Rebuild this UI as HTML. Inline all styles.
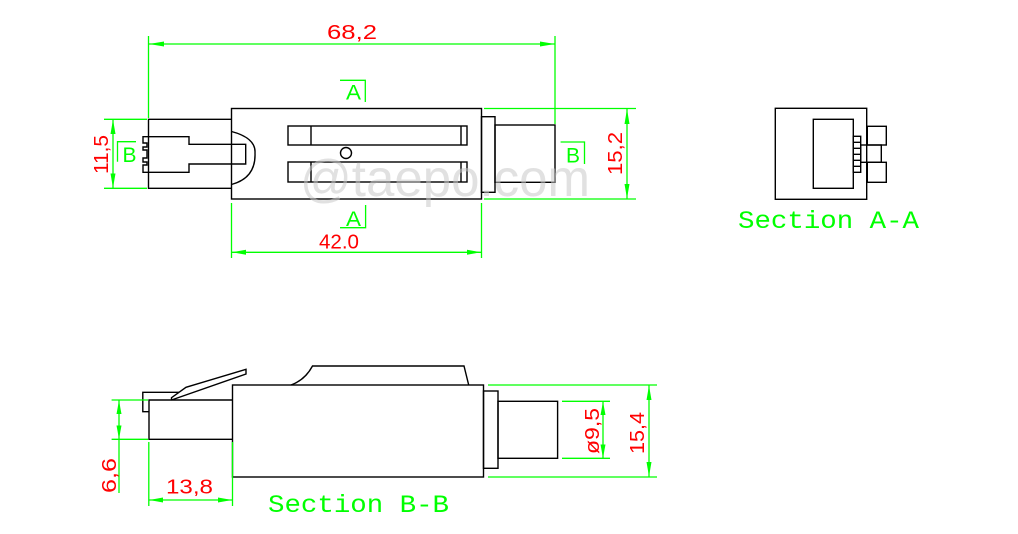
<!DOCTYPE html>
<html><head><meta charset="utf-8"><style>
html,body{margin:0;padding:0;background:#fff;}
svg{display:block;}
.k{stroke:#000;stroke-width:1.4;fill:none;}
.g{stroke:#00ff00;stroke-width:1.3;fill:none;}
.a{fill:#00ff00;stroke:none;}
.r{fill:#ff0000;font-family:"Liberation Sans",sans-serif;font-size:20px;}
.gt{fill:#00ff00;font-family:"Liberation Mono",monospace;font-size:25px;}
.gl{fill:#00ff00;font-family:"Liberation Sans",sans-serif;font-size:21px;}
</style></head><body>
<svg width="1018" height="534" viewBox="0 0 1018 534" xmlns="http://www.w3.org/2000/svg">
<rect class="k" x="231.5" y="108.5" width="250" height="90.5"/>
<rect class="k" x="481.5" y="116.7" width="13.5" height="75.6"/>
<rect class="k" x="495" y="125" width="60" height="57.3"/>
<path class="k" d="M231.5 119.3 H148.5 V188.3 H231.5"/>
<path class="k" d="M143 136.7 H189 V144.3 H245.7 V164 H189 V172.3 H143 V165 H147 V162 H143 V158 H147 V150 H143 V147 H147 V143 H143 Z"/>
<path class="k" d="M231.5 131.5 Q256 138 255 153 Q256 178 231.5 184.5"/>
<rect class="k" x="288" y="126" width="179" height="19"/>
<line class="k" x1="311" y1="126" x2="311" y2="145"/><line class="k" x1="461" y1="126" x2="461" y2="145"/>
<rect class="k" x="288" y="162" width="179" height="20"/>
<line class="k" x1="311" y1="162" x2="311" y2="182"/><line class="k" x1="461" y1="162" x2="461" y2="182"/>
<circle class="k" cx="346" cy="153" r="5.5"/>
<line class="g" x1="148.5" y1="36" x2="148.5" y2="118"/>
<line class="g" x1="555" y1="36" x2="555" y2="124"/>
<line class="g" x1="148.5" y1="44" x2="555" y2="44"/>
<polygon class="a" points="149,44 164,41.5 164,46.5"/><polygon class="a" points="555,44 540,41.5 540,46.5"/>
<text class="r" x="327" y="39" textLength="50" lengthAdjust="spacingAndGlyphs">68,2</text>
<path class="g" d="M340 80.3 H365.3 V102"/>
<text class="gl" x="346" y="99.5" textLength="15" lengthAdjust="spacingAndGlyphs">A</text>
<path class="g" d="M340 227.7 H365.6 V205"/>
<text class="gl" x="346" y="226" textLength="15" lengthAdjust="spacingAndGlyphs">A</text>
<path class="g" d="M136 141.7 H117.5 V161.7"/>
<text class="gl" x="122.5" y="162" textLength="14" lengthAdjust="spacingAndGlyphs">B</text>
<path class="g" d="M560.6 142 H584.5 V164"/>
<text class="gl" x="566" y="162.5" textLength="14" lengthAdjust="spacingAndGlyphs">B</text>
<line class="g" x1="104" y1="119.3" x2="147" y2="119.3"/>
<line class="g" x1="104" y1="188.3" x2="147" y2="188.3"/>
<line class="g" x1="113" y1="119.3" x2="113" y2="188.3"/>
<polygon class="a" points="113,119.5 110.5,134 115.5,134"/><polygon class="a" points="113,188 110.5,173.5 115.5,173.5"/>
<text class="r" transform="translate(108,174) rotate(-90)" x="0" y="0" textLength="39" lengthAdjust="spacingAndGlyphs">11,5</text>
<line class="g" x1="484" y1="108.5" x2="636" y2="108.5"/>
<line class="g" x1="484" y1="199" x2="636" y2="199"/>
<line class="g" x1="627" y1="108.5" x2="627" y2="199"/>
<polygon class="a" points="627,109 624.5,124 629.5,124"/><polygon class="a" points="627,198.5 624.5,184 629.5,184"/>
<text class="r" transform="translate(622,175) rotate(-90)" x="0" y="0" textLength="43" lengthAdjust="spacingAndGlyphs">15,2</text>
<line class="g" x1="231.5" y1="203" x2="231.5" y2="258"/>
<line class="g" x1="481.5" y1="203" x2="481.5" y2="258"/>
<line class="g" x1="231.5" y1="252.3" x2="481.5" y2="252.3"/>
<polygon class="a" points="232,252.3 246,249.8 246,254.8"/><polygon class="a" points="481,252.3 467,249.8 467,254.8"/>
<text class="r" x="319" y="248.5" textLength="40" lengthAdjust="spacingAndGlyphs">42.0</text>
<text x="300" y="196" fill="#c8c8c8" fill-opacity="0.55" font-family="Liberation Sans, sans-serif" font-size="52" textLength="290" lengthAdjust="spacingAndGlyphs">@taepo.com</text>

<rect class="k" x="775.3" y="108.3" width="91.4" height="91"/>
<rect class="k" x="813.3" y="119.3" width="40" height="69"/>
<rect class="k" x="853.3" y="136.3" width="7.4" height="36"/>
<path class="k" d="M853.3 142.3 H860.7 M853.3 148.3 H860.7 M853.3 154.3 H860.7 M853.3 160.3 H860.7 M853.3 166.3 H860.7"/>
<rect class="k" x="867.3" y="126.3" width="19" height="18.7"/>
<rect class="k" x="860.7" y="145" width="20.6" height="17.3"/>
<rect class="k" x="867.3" y="162.3" width="19" height="20"/>
<text class="gt" x="738" y="228" textLength="181" lengthAdjust="spacingAndGlyphs">Section A-A</text>

<rect class="k" x="232.5" y="385" width="251" height="92"/>
<rect class="k" x="483.5" y="391" width="14.5" height="77.3"/>
<rect class="k" x="498" y="401.3" width="59.6" height="57"/>
<path class="k" d="M232.5 400 H149 V439.3 H232.5"/>
<path class="k" d="M149 411.7 H142.8 V392.3 H179"/>
<path class="k" d="M171.5 400 V397.7 L186 387.3 L246 369.3 V374 L171.5 400"/>
<path class="k" d="M291 385 Q305 380 312.5 366 H464 L468.7 385"/>
<line class="g" x1="111.6" y1="400" x2="148" y2="400"/>
<line class="g" x1="111.6" y1="439.3" x2="148" y2="439.3"/>
<line class="g" x1="119" y1="400" x2="119" y2="493"/>
<polygon class="a" points="119,400.5 116.5,414 121.5,414"/><polygon class="a" points="119,439 116.5,425.5 121.5,425.5"/>
<text class="r" transform="translate(116,493) rotate(-90)" x="0" y="0" textLength="35" lengthAdjust="spacingAndGlyphs">6,6</text>
<line class="g" x1="148.8" y1="442" x2="148.8" y2="506"/>
<line class="g" x1="232.5" y1="442" x2="232.5" y2="506"/>
<line class="g" x1="148.8" y1="500" x2="232.5" y2="500"/>
<polygon class="a" points="149.3,500 163,497.5 163,502.5"/><polygon class="a" points="232,500 218,497.5 218,502.5"/>
<text class="r" x="166" y="493.5" textLength="47" lengthAdjust="spacingAndGlyphs">13,8</text>
<line class="g" x1="562" y1="401.3" x2="610" y2="401.3"/>
<line class="g" x1="562" y1="458.3" x2="610" y2="458.3"/>
<line class="g" x1="603" y1="401.3" x2="603" y2="458.3"/>
<polygon class="a" points="603,401.8 600.5,415 605.5,415"/><polygon class="a" points="603,458 600.5,444.5 605.5,444.5"/>
<text class="r" transform="translate(599,454) rotate(-90)" x="0" y="0" textLength="46" lengthAdjust="spacingAndGlyphs">ø9,5</text>
<line class="g" x1="488" y1="385" x2="657" y2="385"/>
<line class="g" x1="488" y1="477" x2="657" y2="477"/>
<line class="g" x1="649" y1="385" x2="649" y2="477"/>
<polygon class="a" points="649,385.5 646.5,400 651.5,400"/><polygon class="a" points="649,476.5 646.5,462 651.5,462"/>
<text class="r" transform="translate(644,454) rotate(-90)" x="0" y="0" textLength="42" lengthAdjust="spacingAndGlyphs">15,4</text>
<text class="gt" x="268" y="512" textLength="181" lengthAdjust="spacingAndGlyphs">Section B-B</text>
</svg>
</body></html>
